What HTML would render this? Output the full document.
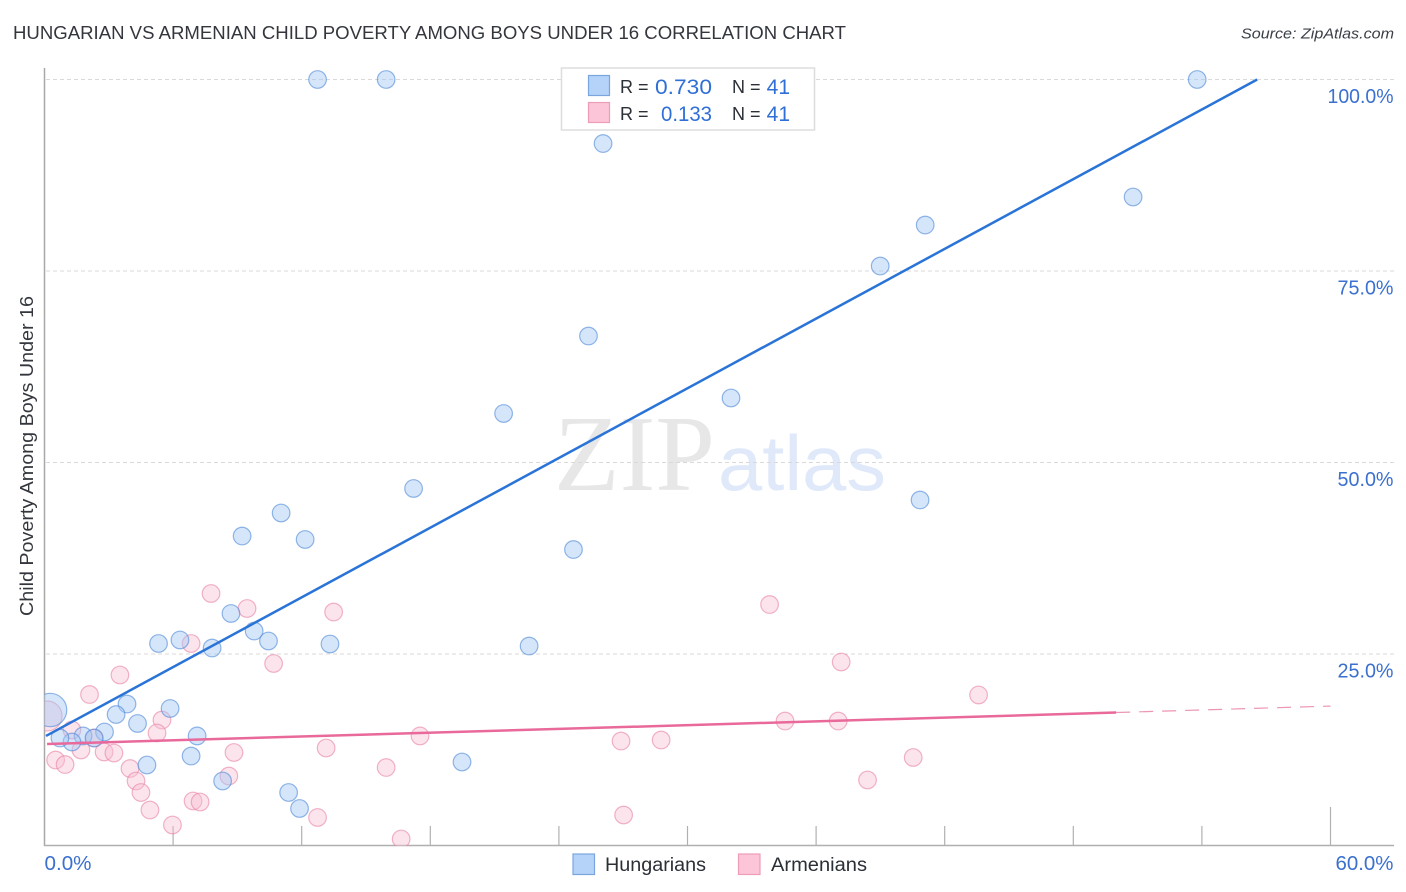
<!DOCTYPE html>
<html lang="en">
<head>
<meta charset="utf-8">
<title>Hungarian vs Armenian Child Poverty Among Boys Under 16 Correlation Chart</title>
<style>
html,body{margin:0;padding:0;background:#fff;}
svg{display:block;font-family:"Liberation Sans",sans-serif;}
</style>
</head>
<body>
<svg id="chart" xmlns="http://www.w3.org/2000/svg" width="1406" height="892" viewBox="0 0 1406 892">
  <defs><clipPath id="plot-clip"><rect x="44.5" y="60" width="1350" height="786"/></clipPath></defs>
  <text x="13" y="39" font-size="18.5" fill="#33373d" textLength="833" lengthAdjust="spacingAndGlyphs">HUNGARIAN VS ARMENIAN CHILD POVERTY AMONG BOYS UNDER 16 CORRELATION CHART</text>
  <text x="1394" y="38.5" font-size="15" font-style="italic" fill="#3a3f46" text-anchor="end" textLength="153" lengthAdjust="spacingAndGlyphs">Source: ZipAtlas.com</text>
  <text transform="translate(33 456) rotate(-90)" font-size="18" fill="#33373d" text-anchor="middle" textLength="320" lengthAdjust="spacingAndGlyphs">Child Poverty Among Boys Under 16</text>
  <text x="554" y="490" font-family="'Liberation Serif',serif" font-size="108" fill="#e7e7e7" textLength="161" lengthAdjust="spacingAndGlyphs">ZIP</text>
  <text x="718" y="490" font-size="78" fill="#dfe9f9" textLength="168" lengthAdjust="spacingAndGlyphs">atlas</text>
  <g id="grid"></g>
  <g id="axes"></g>
  <g id="armenian-points" clip-path="url(#plot-clip)"></g>
  <g id="hungarian-points" clip-path="url(#plot-clip)"></g>
  <g id="trends"></g>
  <g>
    <rect x="561.5" y="68" width="253" height="62" fill="#fff" stroke="#dddddd" stroke-width="1.5"/>
    <rect x="588.5" y="75.5" width="21" height="20" fill="#b5d2f8" stroke="#7aa6de" stroke-width="1.2"/>
    <rect x="588.5" y="102.5" width="21" height="20" fill="#fcc5d8" stroke="#ee9db8" stroke-width="1.2"/>
    <text x="620" y="93" font-size="18" fill="#2b2f36">R =</text>
    <text x="712" y="94" font-size="21" fill="#2f6fd6" text-anchor="end" textLength="57" lengthAdjust="spacingAndGlyphs">0.730</text>
    <text x="732" y="93" font-size="18" fill="#2b2f36">N =</text>
    <text x="790" y="94" font-size="21" fill="#2f6fd6" text-anchor="end">41</text>
    <text x="620" y="120" font-size="18" fill="#2b2f36">R =</text>
    <text x="712" y="121" font-size="21" fill="#2f6fd6" text-anchor="end" textLength="51" lengthAdjust="spacingAndGlyphs">0.133</text>
    <text x="732" y="120" font-size="18" fill="#2b2f36">N =</text>
    <text x="790" y="121" font-size="21" fill="#2f6fd6" text-anchor="end">41</text>
  </g>
  <g>
    <rect x="573" y="854" width="21.5" height="20.5" fill="#b5d2f8" stroke="#7aa6de" stroke-width="1.2"/>
    <text x="605" y="871" font-size="19" fill="#2b2f36" textLength="101" lengthAdjust="spacingAndGlyphs">Hungarians</text>
    <rect x="738.5" y="854" width="21.5" height="20.5" fill="#fcc5d8" stroke="#ee9db8" stroke-width="1.2"/>
    <text x="771" y="871" font-size="19" fill="#2b2f36" textLength="96" lengthAdjust="spacingAndGlyphs">Armenians</text>
  </g>
</svg>
<script>
const yTicks = [25, 50, 75, 100];
const yTickLabels = ["25.0%", "50.0%", "75.0%", "100.0%"];
const xTicks = [0, 6, 12, 18, 24, 30, 36, 42, 48, 54, 60];
const xEndLabels = ["0.0%", "60.0%"];

const hungarianX = [12.74,15.94,53.78,26.06,50.79,41.09,38.99,25.38,32.03,21.42,17.22,40.85,11.04,9.22,12.16,24.68,8.70,9.78,6.32,10.45,5.32,13.32,7.82,22.61,3.85,5.86,3.34,4.34,2.80,7.12,1.80,2.31,1.28,0.72,6.84,4.78,19.48,8.31,11.39,11.90,0.26];
const hungarianY = [100,100,100,91.64,84.66,81.00,75.65,66.51,58.42,56.40,46.61,45.10,43.41,40.40,39.95,38.64,30.29,28.00,26.83,26.70,26.37,26.31,25.78,26.04,18.47,17.89,17.10,15.93,14.82,14.30,14.30,14.03,13.51,14.03,11.68,10.51,10.90,8.42,6.92,4.83,17.69];
const hungarianWeight = [1,1,1,1,1,1,1,1,1,1,1,1,1,1,1,1,1,1,1,1,1,1,1,1,1,1,1,1,1,1,1,1,1,1,1,1,1,1,1,1,3.6];

const armenianX = [0.12,7.77,9.45,13.49,33.83,6.84,37.17,10.69,3.52,2.10,43.58,5.48,5.25,34.55,37.03,1.28,17.52,26.90,28.77,13.14,8.84,1.70,2.33,2.78,3.24,0.52,0.96,3.99,4.27,4.50,4.92,5.97,6.93,7.26,8.60,40.53,15.94,38.40,27.02,12.74,16.64];
const armenianY = [16.91,32.90,30.94,30.48,31.46,26.37,23.96,23.76,22.26,19.71,19.65,16.38,14.69,16.25,16.25,15.08,14.30,13.64,13.77,12.73,12.14,12.47,14.03,12.21,12.08,11.16,10.57,10.05,8.42,6.92,4.63,2.68,5.81,5.68,9.07,11.49,10.18,8.55,3.98,3.66,0.85];
const armenianWeight = [2.9,1,1,1,1,1,1,1,1,1,1,1,1,1,1,1,1,1,1,1,1,1,1,1,1,1,1,1,1,1,1,1,1,1,1,1,1,1,1,1,1];

const hungarianTrendX = [0.07, 56.58];
const hungarianTrendY = [14.3, 100];
const armenianTrendX = [0.12, 50];
const armenianTrendY = [13.25, 17.36];
const armenianExtendedX = [50, 60];
const armenianExtendedY = [17.36, 18.2];

const NS = "http://www.w3.org/2000/svg";
function xScale(v) { return 44.5 + v * (1286 / 60); }
function yScale(v) { return 845.5 - v * (766 / 100); }
function make(tag, parent, attrs) {
  const el = document.createElementNS(NS, tag);
  for (const k in attrs) el.setAttribute(k, attrs[k]);
  parent.appendChild(el);
  return el;
}
const gridG = document.getElementById("grid");
const axesG = document.getElementById("axes");

yTicks.forEach(function (t, i) {
  const line = make("line", gridG, {x1: 46, x2: 1394, y1: yScale(t), y2: yScale(t), stroke: "#d9d9d9", "stroke-width": 1, "stroke-dasharray": "4 3"});
  
  
  const label = make("text", axesG, {x: 1393.5, y: yScale(t) + 23.5, "font-size": 20, fill: "#3b70cf", "text-anchor": "end", textLength: yTickLabels[i].length === 6 ? 66 : 56, lengthAdjust: "spacingAndGlyphs"});
  label.textContent = yTickLabels[i];
  
  
});

const yAxisLine = make("line", axesG, {x1: 44.5, x2: 44.5, y1: 68, y2: 846, stroke: "#a8a8a8", "stroke-width": 1.5});


const xAxisLine = make("line", axesG, {x1: 44, x2: 1394, y1: 845.5, y2: 845.5, stroke: "#b0b0b0", "stroke-width": 1.5});



xTicks.forEach(function (t, i) {
  if (i === 0) return;
  const top = i === xTicks.length - 1 ? 807 : 826;
  const tick = make("line", axesG, {x1: xScale(t), x2: xScale(t), y1: top, y2: 845.5, stroke: "#b0b0b0", "stroke-width": 1.2});
  
  
});

const xLabelStart = make("text", axesG, {x: 44.5, y: 870, "font-size": 20, fill: "#3b70cf", textLength: 47, lengthAdjust: "spacingAndGlyphs"});
xLabelStart.textContent = xEndLabels[0];


const xLabelEnd = make("text", axesG, {x: 1393.5, y: 870, "font-size": 20, fill: "#3b70cf", "text-anchor": "end", textLength: 58, lengthAdjust: "spacingAndGlyphs"});
xLabelEnd.textContent = xEndLabels[1];



const armenianG = document.getElementById("armenian-points");
armenianX.forEach(function (v, i) {
  const c = make("circle", armenianG, {cx: xScale(v), cy: yScale(armenianY[i]), r: 8.8 * Math.sqrt(armenianWeight[i]), fill: "rgba(249,190,210,0.42)", stroke: "rgba(232,130,165,0.6)", "stroke-width": 1.2});
  
  
});
const hungarianG = document.getElementById("hungarian-points");
hungarianX.forEach(function (v, i) {
  const c = make("circle", hungarianG, {cx: xScale(v), cy: yScale(hungarianY[i]), r: 8.8 * Math.sqrt(hungarianWeight[i]), fill: "rgba(165,200,245,0.45)", stroke: "rgba(75,135,215,0.6)", "stroke-width": 1.2});
  
  
});

const trendsG = document.getElementById("trends");
const armenianDash = make("line", trendsG, {x1: xScale(armenianExtendedX[0]), y1: yScale(armenianExtendedY[0]), x2: xScale(armenianExtendedX[1]), y2: yScale(armenianExtendedY[1]), stroke: "#e97ba2", "stroke-width": 1.2, "stroke-dasharray": "14 9", opacity: 0.8});


const armenianLine = make("line", trendsG, {x1: xScale(armenianTrendX[0]), y1: yScale(armenianTrendY[0]), x2: xScale(armenianTrendX[1]), y2: yScale(armenianTrendY[1]), stroke: "#e8699a", "stroke-width": 2.5});


const hungarianLine = make("line", trendsG, {x1: xScale(hungarianTrendX[0]), y1: yScale(hungarianTrendY[0]), x2: xScale(hungarianTrendX[1]), y2: yScale(hungarianTrendY[1]), stroke: "#2a74d8", "stroke-width": 2.5});


</script>
</body>
</html>
